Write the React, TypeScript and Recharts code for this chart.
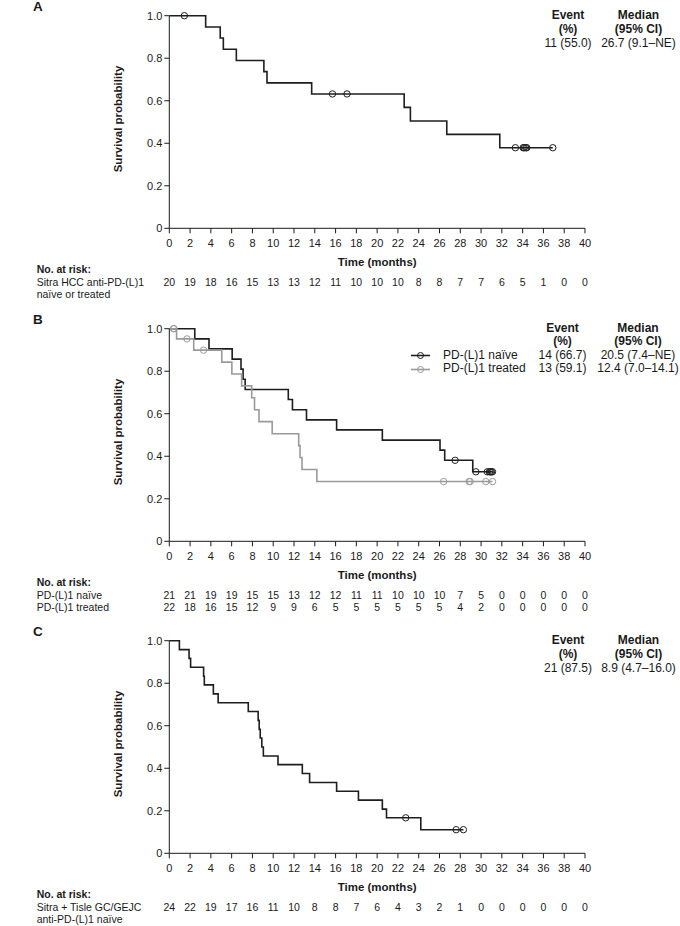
import React from 'react';
import { ComposedChart, Line, Scatter, XAxis, YAxis, Legend } from 'recharts';

// ---------- shared ticks ----------
const timeTicks = [0, 2, 4, 6, 8, 10, 12, 14, 16, 18, 20, 22, 24, 26, 28, 30, 32, 34, 36, 38, 40];
const survTicks = [0, 0.2, 0.4, 0.6, 0.8, 1.0];

// ---------- Panel A: Sitra HCC ----------
const aEventTimes = [3.5, 4.9, 5.2, 6.45, 9.1, 9.4, 13.7, 22.6, 23.2, 26.7, 31.8];
const aSurv = [0.947, 0.895, 0.842, 0.789, 0.737, 0.684, 0.632, 0.569, 0.505, 0.442, 0.379];
const aCensorTimes = [1.45, 15.7, 17.1, 33.3, 34.05, 34.15, 34.3, 34.4, 36.9];
const aAtRisk = [20, 19, 18, 16, 15, 13, 13, 12, 11, 10, 10, 10, 8, 8, 7, 7, 6, 5, 1, 0, 0];

// ---------- Panel B: PD-(L)1 naive / treated ----------
const bNaiveEventTimes = [2.45, 3.82, 6.05, 6.9, 7.1, 7.3, 11.45, 11.85, 13.2, 16.1, 20.5, 26.05, 26.5, 29.2];
const bNaiveSurv = [0.952, 0.905, 0.857, 0.81, 0.762, 0.714, 0.667, 0.619, 0.571, 0.524, 0.476, 0.429, 0.381, 0.327];
const bNaiveCensorTimes = [27.5, 29.5, 30.6, 30.8, 30.9, 31.0, 31.1];
const bTreatedEventTimes = [0.7, 2.35, 5.05, 6.02, 6.96, 7.93, 8.2, 8.63, 9.9, 12.45, 12.58, 12.77, 14.2];
const bTreatedSurv = [0.952, 0.899, 0.843, 0.787, 0.731, 0.675, 0.619, 0.563, 0.506, 0.45, 0.394, 0.338, 0.281];
const bTreatedCensorTimes = [0.4, 0.45, 1.7, 3.3, 26.4, 28.85, 28.95, 30.45, 31.1];
const bNaiveAtRisk = [21, 21, 19, 19, 15, 15, 13, 12, 12, 11, 11, 10, 10, 10, 7, 5, 0, 0, 0, 0, 0];
const bTreatedAtRisk = [22, 18, 16, 15, 12, 9, 9, 6, 5, 5, 5, 5, 5, 5, 4, 2, 0, 0, 0, 0, 0];

// ---------- Panel C: Sitra + Tisle GC/GEJC ----------
const cEventTimes = [0.97, 1.9, 2.05, 3.3, 3.37, 4.24, 4.7, 7.6, 8.55, 8.65, 8.75, 8.9, 9.05, 10.46, 12.8, 13.5, 16.1, 18.2, 20.5, 20.9, 24.2];
const cSurv = [0.958, 0.917, 0.875, 0.833, 0.792, 0.75, 0.708, 0.667, 0.625, 0.583, 0.542, 0.5, 0.458, 0.417, 0.375, 0.333, 0.292, 0.25, 0.208, 0.167, 0.111];
const cCensorTimes = [22.75, 27.6, 28.3];
const cAtRisk = [24, 22, 19, 17, 16, 11, 10, 8, 8, 7, 6, 4, 3, 2, 1, 0, 0, 0, 0, 0, 0];

const FONT = '"Liberation Sans", Arial, Helvetica, sans-serif';
const INK = '#1a1a1a';
const BLACK_LINE = '#1e1e1e';
const GRAY_LINE = '#9a9a9a';

type Pt = { t: number; s: number };

function stepData(times: number[], surv: number[], censors: number[]): Pt[] {
  const pts: Pt[] = [{ t: 0, s: 1 }];
  times.forEach((t, i) => pts.push({ t, s: surv[i] }));
  const end = Math.max(times[times.length - 1], ...censors);
  pts.push({ t: end, s: surv[surv.length - 1] });
  return pts;
}
function survAt(times: number[], surv: number[], t: number): number {
  let s = 1;
  for (let i = 0; i < times.length; i++) if (times[i] <= t) s = surv[i];
  return s;
}
function censorData(times: number[], surv: number[], censors: number[]): Pt[] {
  return censors.map((t) => ({ t, s: survAt(times, surv, t) }));
}

type Series = {
  name: string;
  color: string;
  times: number[];
  surv: number[];
  censors: number[];
};

type PanelProps = {
  top: number;
  letter: string;
  series: Series[];
  riskRows: number[][];
  rowLabels: string[];
  stats: { event: string; median: string }[];
  eventX: number;
  medianX: number;
  statLineH: number;
  statTop: number;
  legend?: boolean;
};

const PLOT_TOP = 15.7;
const PLOT_H = 212.6;
const MAIN_AX_H = 38;
const RISK_AX_H = 12;
const BOTTOM_PAD = 14;

const CensorShape = (color: string) => (props: any) => {
  const { cx, cy } = props;
  if (cx == null || cy == null) return <g />;
  return <circle cx={cx} cy={cy} r={3.2} fill="none" stroke={color} strokeWidth={1} />;
};

function LegendContent(props: any) {
  const payload = (props.payload || []).filter((p: any) => p.type !== 'none');
  return (
    <div style={{ fontFamily: FONT, fontSize: 12, color: INK }}>
      {payload.map((p: any, i: number) => (
        <div key={i} style={{ display: 'flex', alignItems: 'center', height: 13.5, lineHeight: '13.5px', whiteSpace: 'nowrap' }}>
          <svg width={32} height={13} style={{ display: 'block' }}>
            <line x1={3} y1={6.5} x2={22} y2={6.5} stroke={p.color} strokeWidth={1.6} />
            <circle cx={12.5} cy={6.5} r={3} fill="none" stroke={p.color} strokeWidth={1} />
          </svg>
          <span style={{ marginLeft: 3 }}>{p.value}</span>
        </div>
      ))}
    </div>
  );
}

function KMPanel(p: PanelProps) {
  const nRisk = p.riskRows.length;
  const chartH = PLOT_TOP + PLOT_H + MAIN_AX_H + RISK_AX_H * nRisk + BOTTOM_PAD;
  const axisData = timeTicks.map((t) => ({ t }));
  const nar = PLOT_TOP + PLOT_H + 40.7;
  const rowY = [PLOT_TOP + PLOT_H + 54, PLOT_TOP + PLOT_H + 66];

  return (
    <div style={{ position: 'absolute', left: 0, top: p.top, width: 680, height: chartH }}>
      <ComposedChart
        width={680}
        height={chartH}
        data={axisData}
        margin={{ top: PLOT_TOP, right: 95, left: 0, bottom: BOTTOM_PAD }}
        style={{ fontFamily: FONT, overflow: 'visible' }}
      >
        <XAxis
          xAxisId="main"
          type="number"
          dataKey="t"
          domain={[0, 40]}
          ticks={timeTicks}
          interval={0}
          height={MAIN_AX_H}
          tickSize={5}
          tickMargin={6}
          tick={{ fontSize: 11, fill: INK }}
          tickLine={{ stroke: INK }}
          axisLine={{ stroke: INK }}
          label={{ value: 'Time (months)', position: 'insideBottom', offset: 0, fontSize: 11.5, fontWeight: 'bold', fill: INK }}
        />
        {p.riskRows.map((row, ri) => (
          <XAxis
            key={'r' + ri}
            xAxisId={'r' + ri}
            type="number"
            dataKey="t"
            domain={[0, 40]}
            ticks={timeTicks}
            interval={0}
            height={RISK_AX_H}
            axisLine={false}
            tickLine={false}
            tickSize={0}
            tickMargin={12.3}
            tick={{ fontSize: 10.5, fill: INK }}
            tickFormatter={(v: number) => String(row[timeTicks.indexOf(v)])}
          />
        ))}
        <YAxis
          type="number"
          dataKey="s"
          domain={[0, 1]}
          ticks={survTicks}
          interval={0}
          width={169.3}
          tickSize={5}
          tickMargin={2}
          tick={{ fontSize: 11, fill: INK }}
          tickLine={{ stroke: INK }}
          axisLine={{ stroke: INK }}
          tickFormatter={(v: number) => (v === 0 ? '0' : v.toFixed(1))}
          label={{
            content: (lp: any) => {
              const vb = lp.viewBox || {};
              const cy = (vb.y || 0) + (vb.height || 0) / 2 - 3;
              const cx = 118.3;
              return (
                <text
                  x={cx}
                  y={cy}
                  transform={`rotate(-90, ${cx}, ${cy})`}
                  textAnchor="middle"
                  dominantBaseline="central"
                  fontSize={11.5}
                  fontWeight="bold"
                  fill={INK}
                  fontFamily={FONT}
                >
                  Survival probability
                </text>
              );
            },
          }}
        />
        {p.series.map((s, i) => (
          <Line
            key={'l' + i}
            xAxisId="main"
            data={stepData(s.times, s.surv, s.censors)}
            dataKey="s"
            name={s.name}
            type="stepAfter"
            stroke={s.color}
            strokeWidth={1.6}
            dot={false}
            activeDot={false}
            isAnimationActive={false}
          />
        ))}
        {p.series.map((s, i) => (
          <Scatter
            key={'c' + i}
            xAxisId="main"
            data={censorData(s.times, s.surv, s.censors)}
            dataKey="s"
            legendType="none"
            shape={CensorShape(s.color)}
            isAnimationActive={false}
          />
        ))}
        {p.legend && (
          <Legend
            layout="vertical"
            align="center"
            verticalAlign="middle"
            content={LegendContent}
            wrapperStyle={{ position: 'absolute', left: 408, top: 35.75, width: 'auto', margin: 0 }}
          />
        )}
      </ComposedChart>

      {/* panel letter */}
      <div style={{ position: 'absolute', left: 33, top: PLOT_TOP - 9.4 - 7.5, fontFamily: FONT, fontSize: 13.5, fontWeight: 'bold', lineHeight: '15px', color: INK }}>
        {p.letter}
      </div>

      {/* at-risk labels */}
      <div style={{ position: 'absolute', left: 36.7, top: nar - 6, fontFamily: FONT, fontSize: 10.5, fontWeight: 'bold', lineHeight: '12px', color: INK, whiteSpace: 'nowrap' }}>
        No. at risk:
      </div>
      {p.rowLabels.map((lbl, i) => (
        <div key={i} style={{ position: 'absolute', left: 36.7, top: rowY[i] - 6, fontFamily: FONT, fontSize: 10.5, lineHeight: '12px', color: INK, whiteSpace: 'nowrap' }}>
          {lbl}
        </div>
      ))}

      {/* event / median table */}
      {[
        { x: p.eventX, lines: ['Event', '(%)', ...p.stats.map((s) => s.event)] },
        { x: p.medianX, lines: ['Median', '(95% CI)', ...p.stats.map((s) => s.median)] },
      ].map((col, ci) => (
        <div
          key={ci}
          style={{
            position: 'absolute',
            left: col.x,
            top: p.statTop,
            transform: 'translateX(-50%)',
            fontFamily: FONT,
            fontSize: 12,
            lineHeight: p.statLineH + 'px',
            color: INK,
            textAlign: 'center',
            whiteSpace: 'nowrap',
          }}
        >
          {col.lines.map((ln, li) => (
            <div key={li} style={{ fontWeight: li < 2 ? 'bold' : 'normal' }}>
              {ln}
            </div>
          ))}
        </div>
      ))}
    </div>
  );
}

export default function App() {
  return (
    <div style={{ position: 'absolute', left: 0, top: 0, width: 680, height: 926, overflow: 'hidden', background: '#fff' }}>
      <KMPanel
        top={0}
        letter="A"
        series={[{ name: 'Sitra HCC', color: BLACK_LINE, times: aEventTimes, surv: aSurv, censors: aCensorTimes }]}
        riskRows={[aAtRisk]}
        rowLabels={['Sitra HCC anti-PD-(L)1', 'naïve or treated']}
        stats={[{ event: '11 (55.0)', median: '26.7 (9.1–NE)' }]}
        eventX={568}
        medianX={638.5}
        statLineH={14}
        statTop={8}
      />
      <KMPanel
        top={313}
        letter="B"
        series={[
          { name: 'PD-(L)1 naïve', color: BLACK_LINE, times: bNaiveEventTimes, surv: bNaiveSurv, censors: bNaiveCensorTimes },
          { name: 'PD-(L)1 treated', color: GRAY_LINE, times: bTreatedEventTimes, surv: bTreatedSurv, censors: bTreatedCensorTimes },
        ]}
        riskRows={[bNaiveAtRisk, bTreatedAtRisk]}
        rowLabels={['PD-(L)1 naïve', 'PD-(L)1 treated']}
        stats={[
          { event: '14 (66.7)', median: '20.5 (7.4–NE)' },
          { event: '13 (59.1)', median: '12.4 (7.0–14.1)' },
        ]}
        eventX={562.5}
        medianX={638}
        statLineH={13.5}
        statTop={8.75}
        legend
      />
      <KMPanel
        top={625}
        letter="C"
        series={[{ name: 'Sitra + Tisle', color: BLACK_LINE, times: cEventTimes, surv: cSurv, censors: cCensorTimes }]}
        riskRows={[cAtRisk]}
        rowLabels={['Sitra + Tisle GC/GEJC', 'anti-PD-(L)1 naïve']}
        stats={[{ event: '21 (87.5)', median: '8.9 (4.7–16.0)' }]}
        eventX={568}
        medianX={638.5}
        statLineH={14}
        statTop={8}
      />
    </div>
  );
}
